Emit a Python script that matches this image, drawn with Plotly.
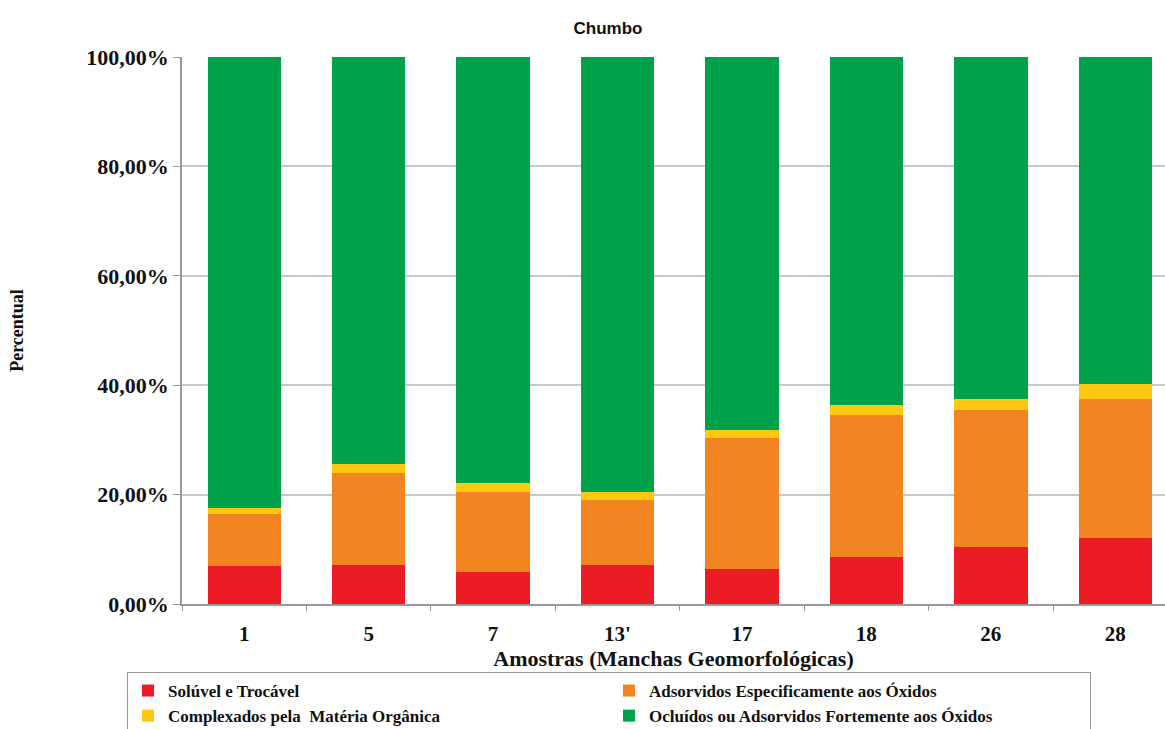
import plotly.graph_objects as go

categories = ["1", "5", "7", "13'", "17", "18", "26", "28"]
soluvel = [6.9, 7.1, 5.9, 7.1, 6.4, 8.6, 10.5, 12.1]
adsorvidos = [9.5, 16.9, 14.6, 12.0, 23.9, 26.0, 25.0, 25.3]
complexados = [1.1, 1.6, 1.6, 1.4, 1.6, 1.7, 1.9, 2.8]
ocluidos = [82.5, 74.4, 77.9, 79.5, 68.1, 63.7, 62.6, 59.8]

y_tick_values = [0, 20, 40, 60, 80, 100]
y_tick_labels = ["0,00%", "20,00%", "40,00%", "60,00%", "80,00%", "100,00%"]

series = [
    ("Solúvel e Trocável", soluvel, "#ec1c24"),
    ("Adsorvidos Especificamente aos Óxidos", adsorvidos, "#f28521"),
    ("Complexados pela  Matéria Orgânica", complexados, "#fdc80f"),
    ("Ocluídos ou Adsorvidos Fortemente aos Óxidos", ocluidos, "#00a14b"),
]

serif = "Liberation Serif, Times New Roman, serif"

fig = go.Figure()
for name, vals, col in series:
    fig.add_trace(go.Bar(x=categories, y=vals, name=name, marker_color=col,
                         marker_line_width=0))

W, H = 1165, 729
L, R, T, B = 182, 0, 57, 125
fig.update_layout(
    width=W, height=H,
    barmode="stack", barnorm="percent", bargap=0.41,
    separators=",.",
    plot_bgcolor="white", paper_bgcolor="white",
    margin=dict(l=L, r=R, t=T, b=B, autoexpand=False),
    title=dict(text="Chumbo", x=608 / W, xref="container", xanchor="center",
               y=1 - 28 / H, yref="container", yanchor="middle",
               font=dict(family="Liberation Sans, Arial, sans-serif", size=17,
                         weight="bold", color="#111")),
    xaxis=dict(range=[-0.5, 7.4], showline=True, linecolor="#999", linewidth=1.5,
               ticks="outside", tickson="boundaries", ticklen=5, tickcolor="#999",
               ticklabelstandoff=10,
               tickfont=dict(family=serif, size=21, weight="bold", color="#111"),
               title=dict(text="Amostras (Manchas Geomorfológicas)", standoff=2,
                          font=dict(family=serif, size=22, weight="bold", color="#111"))),
    yaxis=dict(range=[0, 100], tickmode="array", tickvals=y_tick_values,
               ticktext=y_tick_labels,
               showline=True, linecolor="#999", linewidth=1.5,
               ticks="outside", ticklen=7, tickcolor="#999",
               showgrid=True, gridcolor="#c8c8c8", gridwidth=1.5, zeroline=False,
               tickfont=dict(family=serif, size=22, weight="bold", color="#111"),
               title=dict(text="Percentual", standoff=58,
                          font=dict(family=serif, size=18, weight="bold", color="#111"))),
    legend=dict(orientation="h", x=(127 - L) / (W - L - R), xanchor="left",
                y=-(672 - (H - B)) / (H - T - B), yanchor="top",
                entrywidth=436, entrywidthmode="pixels",
                bordercolor="#999", borderwidth=1, traceorder="normal",
                font=dict(family=serif, size=17, weight="bold", color="#111"),
                itemclick=False),
)

fig.write_html("out.html")
